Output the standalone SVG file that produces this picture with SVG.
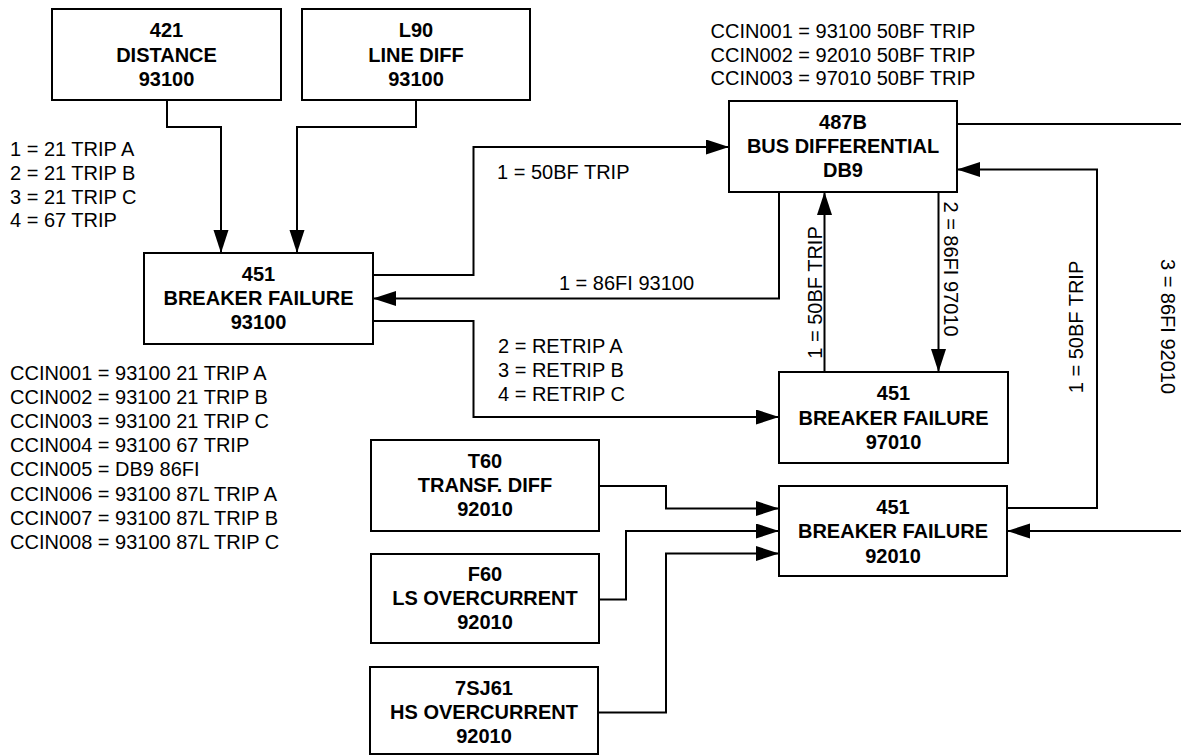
<svg xmlns="http://www.w3.org/2000/svg" width="1181" height="755" viewBox="0 0 1181 755">
<style>
  .box rect { fill: #ffffff; stroke: #000000; stroke-width: 2; }
  .box text { font-family: "Liberation Sans", Arial, sans-serif; font-size: 20px; font-weight: bold; fill: #000000; text-anchor: middle; }
  .lbl { font-family: "Liberation Sans", Arial, sans-serif; font-size: 20px; fill: #000000; }
  .mid { text-anchor: middle; }
  #connectors path { fill: none; stroke: #000000; stroke-width: 2; }
</style>
<defs>
  <marker id="arr" markerUnits="userSpaceOnUse" markerWidth="24" markerHeight="16" refX="23" refY="7.5" orient="auto">
    <path d="M0,0 L23,7.5 L0,15 Z" fill="#000000"/>
  </marker>
</defs>
<rect width="1181" height="755" fill="#ffffff"/>

<g id="connectors">
  <path d="M167,100 V127 H221 V253" marker-end="url(#arr)"/>
  <path d="M416,100 V127 H297 V253" marker-end="url(#arr)"/>
  <path d="M373,275 H473.5 V147 H729" marker-end="url(#arr)"/>
  <path d="M779,192 V298.5 H373" marker-end="url(#arr)"/>
  <path d="M373,321 H473.5 V417 H779" marker-end="url(#arr)"/>
  <path d="M824.5,372 V192" marker-end="url(#arr)"/>
  <path d="M938.5,192 V372" marker-end="url(#arr)"/>
  <path d="M957,124 H1181"/>
  <path d="M1007,508 H1097 V169.5 H957" marker-end="url(#arr)"/>
  <path d="M1181,531 H1007" marker-end="url(#arr)"/>
  <path d="M599,486 H666 V508.5 H779" marker-end="url(#arr)"/>
  <path d="M599,599.5 H626 V531 H779" marker-end="url(#arr)"/>
  <path d="M598,712.5 H666 V553.5 H779" marker-end="url(#arr)"/>
</g>

<g id="n421" class="box">
  <rect x="52" y="9" width="229" height="91"/>
  <text x="166.5" y="37">421</text>
  <text x="166.5" y="61.5">DISTANCE</text>
  <text x="166.5" y="86">93100</text>
</g>
<g id="nL90" class="box">
  <rect x="302" y="9" width="228" height="91"/>
  <text x="416" y="37">L90</text>
  <text x="416" y="61.5">LINE DIFF</text>
  <text x="416" y="86">93100</text>
</g>
<g id="n451_93100" class="box">
  <rect x="144" y="253" width="229" height="91"/>
  <text x="258.5" y="281">451</text>
  <text x="258.5" y="305">BREAKER FAILURE</text>
  <text x="258.5" y="329">93100</text>
</g>
<g id="n487B" class="box">
  <rect x="729" y="101" width="228" height="91"/>
  <text x="843" y="128.5">487B</text>
  <text x="843" y="153">BUS DIFFERENTIAL</text>
  <text x="843" y="177">DB9</text>
</g>
<g id="n451_97010" class="box">
  <rect x="779" y="372" width="229" height="91"/>
  <text x="893.5" y="400">451</text>
  <text x="893.5" y="424.5">BREAKER FAILURE</text>
  <text x="893.5" y="448.5">97010</text>
</g>
<g id="n451_92010" class="box">
  <rect x="779" y="486" width="228" height="90"/>
  <text x="893" y="514">451</text>
  <text x="893" y="538">BREAKER FAILURE</text>
  <text x="893" y="562.5">92010</text>
</g>
<g id="nT60" class="box">
  <rect x="371" y="440" width="228" height="91"/>
  <text x="485" y="467.5">T60</text>
  <text x="485" y="492">TRANSF. DIFF</text>
  <text x="485" y="516">92010</text>
</g>
<g id="nF60" class="box">
  <rect x="371" y="554" width="228" height="89"/>
  <text x="485" y="581">F60</text>
  <text x="485" y="605">LS OVERCURRENT</text>
  <text x="485" y="629">92010</text>
</g>
<g id="n7SJ61" class="box">
  <rect x="370" y="667" width="228" height="87"/>
  <text x="484" y="694.5">7SJ61</text>
  <text x="484" y="718.5">HS OVERCURRENT</text>
  <text x="484" y="742.5">92010</text>
</g>

<g id="labels">
  <text class="lbl" x="10" y="156">1 = 21 TRIP A</text>
  <text class="lbl" x="10" y="179.5">2 = 21 TRIP B</text>
  <text class="lbl" x="10" y="203.5">3 = 21 TRIP C</text>
  <text class="lbl" x="10" y="227">4 = 67 TRIP</text>

  <text class="lbl" x="710.5" y="38">CCIN001 = 93100 50BF TRIP</text>
  <text class="lbl" x="710.5" y="61.5">CCIN002 = 92010 50BF TRIP</text>
  <text class="lbl" x="710.5" y="84.5">CCIN003 = 97010 50BF TRIP</text>

  <text class="lbl" x="497" y="178.5">1 = 50BF TRIP</text>
  <text class="lbl mid" x="626.5" y="289.5">1 = 86FI 93100</text>
  <text class="lbl" x="498" y="352.5">2 = RETRIP A</text>
  <text class="lbl" x="498" y="376.5">3 = RETRIP B</text>
  <text class="lbl" x="498" y="400.5">4 = RETRIP C</text>

  <text class="lbl" x="10" y="379.5">CCIN001 = 93100 21 TRIP A</text>
  <text class="lbl" x="10" y="403.5">CCIN002 = 93100 21 TRIP B</text>
  <text class="lbl" x="10" y="427.5">CCIN003 = 93100 21 TRIP C</text>
  <text class="lbl" x="10" y="451.5">CCIN004 = 93100 67 TRIP</text>
  <text class="lbl" x="10" y="476">CCIN005 = DB9 86FI</text>
  <text class="lbl" x="10" y="500.5">CCIN006 = 93100 87L TRIP A</text>
  <text class="lbl" x="10" y="525">CCIN007 = 93100 87L TRIP B</text>
  <text class="lbl" x="10" y="549">CCIN008 = 93100 87L TRIP C</text>

  <text class="lbl mid" transform="translate(821.5,292.5) rotate(-90)">1 = 50BF TRIP</text>
  <text class="lbl mid" transform="translate(943.5,269) rotate(90)">2 = 86FI 97010</text>
  <text class="lbl mid" transform="translate(1083,327) rotate(-90)">1 = 50BF TRIP</text>
  <text class="lbl mid" transform="translate(1160.5,326.5) rotate(90)">3 = 86FI 92010</text>
</g>
</svg>
